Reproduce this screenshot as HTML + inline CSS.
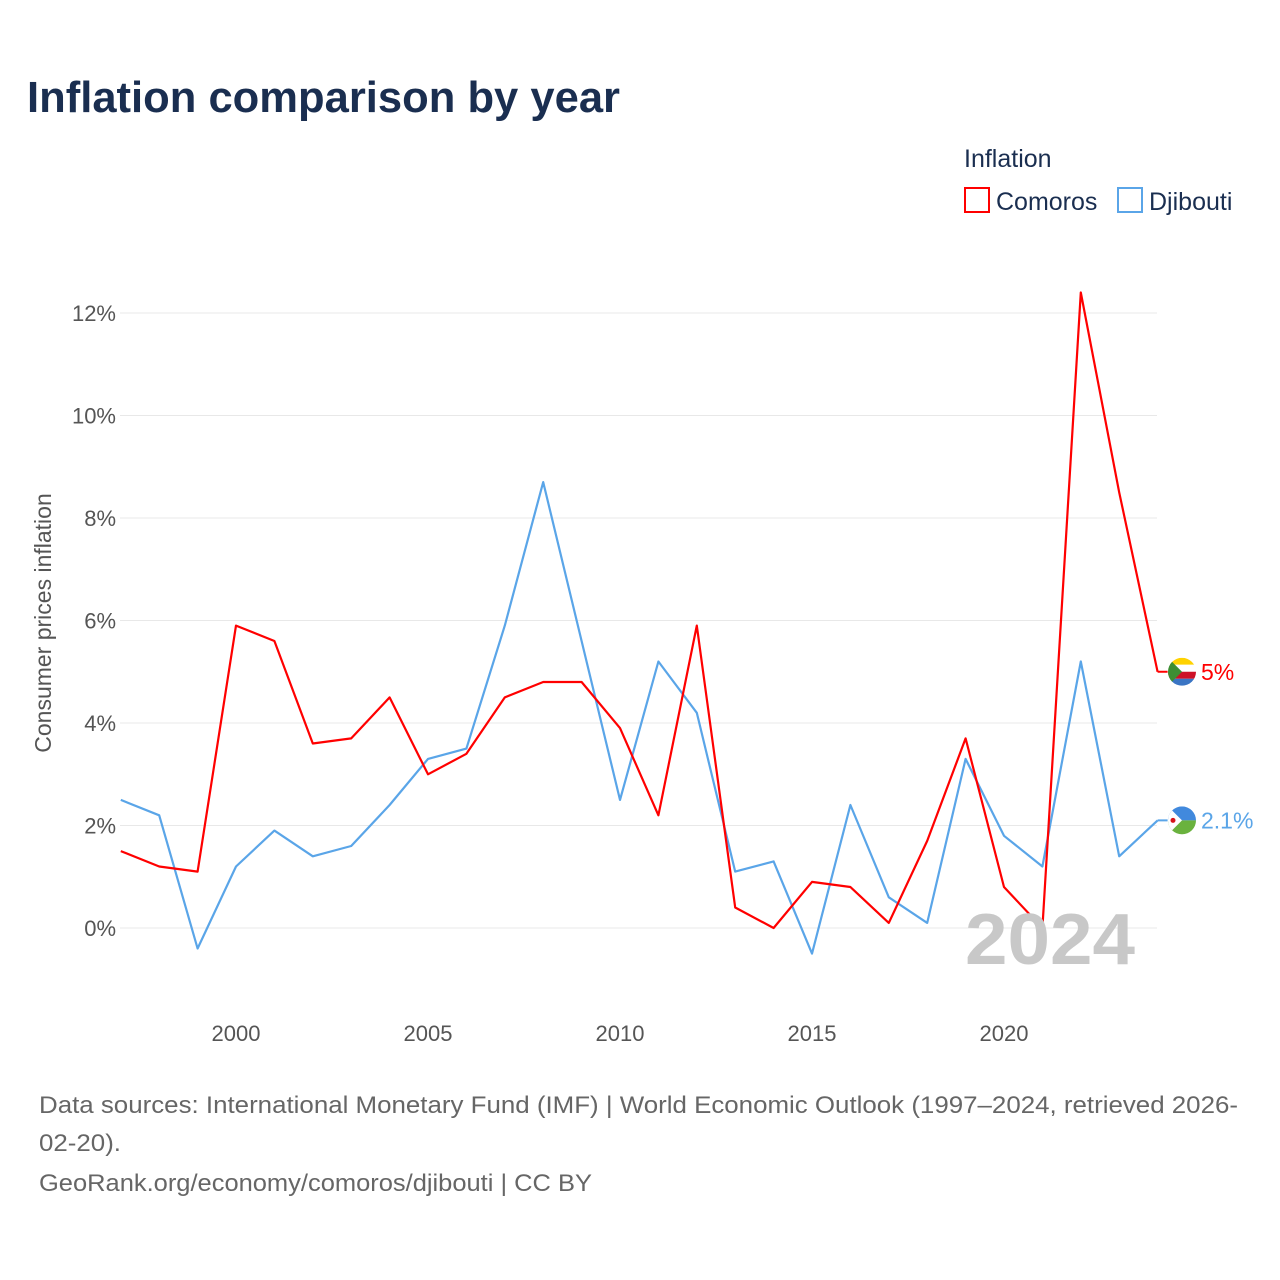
<!DOCTYPE html>
<html><head><meta charset="utf-8">
<style>
body{margin:0;background:#fff;font-family:"Liberation Sans","DejaVu Sans",sans-serif;}
#wrap{position:relative;width:1280px;height:1280px;overflow:hidden;}
</style></head>
<body><div id="wrap">
<svg id="chart" width="1280" height="1280" xmlns="http://www.w3.org/2000/svg">
<text x="27" y="112" font-size="44" font-weight="bold" fill="#1a2e50" textLength="593" lengthAdjust="spacingAndGlyphs">Inflation comparison by year</text>
<text x="964" y="167" font-size="25" fill="#1a2e50">Inflation</text>
<g>
<rect x="965" y="188" width="24" height="24" fill="none" stroke="#ff0000" stroke-width="2"/>
<text x="996" y="210" font-size="25" fill="#1a2e50">Comoros</text></g>
<g>
<rect x="1118" y="188" width="24" height="24" fill="none" stroke="#5aa5e8" stroke-width="2"/>
<text x="1149" y="210" font-size="25" fill="#1a2e50">Djibouti</text></g>
<g id="grid"></g><g id="series"></g>
<text x="965" y="964" font-size="72" font-weight="bold" fill="#c8c8c8" textLength="170" lengthAdjust="spacingAndGlyphs">2024</text>
<text transform="translate(51,623) rotate(-90)" font-size="23" fill="#555" text-anchor="middle">Consumer prices inflation</text>
<text x="39" y="1113" font-size="24" fill="#666" textLength="1199" lengthAdjust="spacingAndGlyphs">Data sources: International Monetary Fund (IMF) | World Economic Outlook (1997–2024, retrieved 2026-</text>
<text x="39" y="1151" font-size="24" fill="#666" textLength="82" lengthAdjust="spacingAndGlyphs">02-20).</text>
<text x="39" y="1191" font-size="24" fill="#666" textLength="553" lengthAdjust="spacingAndGlyphs">GeoRank.org/economy/comoros/djibouti | CC BY</text>
</svg></div>
<script>
const years=[1997,1998,1999,2000,2001,2002,2003,2004,2005,2006,2007,2008,2009,2010,2011,2012,2013,2014,2015,2016,2017,2018,2019,2020,2021,2022,2023,2024];
const comoros=[1.5,1.2,1.1,5.9,5.6,3.6,3.7,4.5,3.0,3.4,4.5,4.8,4.8,3.9,2.2,5.9,0.4,0,0.9,0.8,0.1,1.7,3.7,0.8,0,12.4,8.5,5.0];
const djibouti=[2.5,2.2,-0.4,1.2,1.9,1.4,1.6,2.4,3.3,3.5,5.9,8.7,5.6,2.5,5.2,4.2,1.1,1.3,-0.5,2.4,0.6,0.1,3.3,1.8,1.2,5.2,1.4,2.1];
const yTicks=[0,2,4,6,8,10,12];
const xTicks=[2000,2005,2010,2015,2020];
const NS="http://www.w3.org/2000/svg";
const x=v=>120.8+(v-1997)*38.4;
const y=v=>928-v*51.25;
const grid=document.getElementById('grid'),ser=document.getElementById('series');
function mk(tag,a,p){const e=document.createElementNS(NS,tag);for(const k in a)e.setAttribute(k,a[k]);p.appendChild(e);return e;}
yTicks.forEach(t=>{
 const l=mk('line',{x1:120,x2:1157,y1:y(t),y2:y(t),stroke:'#e8e8e8','stroke-width':1},grid);
 
 
 const tx=mk('text',{x:116,y:y(t)+8,'font-size':22,fill:'#555','text-anchor':'end'},grid);
 tx.textContent=t+'%';
 
 
});
xTicks.forEach(t=>{
 const tx=mk('text',{x:x(t),y:1041,'font-size':22,fill:'#555','text-anchor':'middle'},grid);
 tx.textContent=t;
 
 
});
function line(vals,color,name){
 const d=vals.map((v,i)=>(i?'L':'M')+x(years[i]).toFixed(1)+','+y(v).toFixed(1)).join('');
 const p=mk('path',{d:d,fill:'none',stroke:color,'stroke-width':2.2,'stroke-linejoin':'round'},ser);
 
 
}
line(djibouti,'#5aa5e8','djibouti-line');
line(comoros,'#ff0000','comoros-line');
function endLabel(vals,color,name,flag){
 const v=vals[vals.length-1],yy=y(v),x0=x(years[years.length-1]);
 mk('line',{x1:x0,x2:x0+10,y1:yy,y2:yy,stroke:color,'stroke-width':2},ser);
 const cx=1182;
 const cp=mk('clipPath',{id:'c-'+flag},ser);mk('circle',{cx:cx,cy:yy,r:14},cp);
 const g=mk('g',{'clip-path':'url(#c-'+flag+')'},ser);
 
 
 if(flag==='km'){
  mk('rect',{x:cx-14,y:yy-14,width:28,height:7,fill:'#ffd200'},g);
  mk('rect',{x:cx-14,y:yy-7,width:28,height:7,fill:'#fff'},g);
  mk('rect',{x:cx-14,y:yy,width:28,height:7,fill:'#ce1126'},g);
  mk('rect',{x:cx-14,y:yy+7,width:28,height:7,fill:'#3a75c4'},g);
  mk('path',{d:`M${cx-14},${yy-14}L${cx},${yy}L${cx-14},${yy+14}Z`,fill:'#3d8e33'},g);
 }else{
  mk('rect',{x:cx-14,y:yy-14,width:28,height:14,fill:'#4189dd'},g);
  mk('rect',{x:cx-14,y:yy,width:28,height:14,fill:'#6ab23e'},g);
  mk('path',{d:`M${cx-14},${yy-14}L${cx},${yy}L${cx-14},${yy+14}Z`,fill:'#fff'},g);
  mk('circle',{cx:cx-9,cy:yy,r:2.5,fill:'#d7141a'},g);
 }
 const t=mk('text',{x:1201,y:yy+8,'font-size':23,fill:color},ser);
 t.textContent=v+'%';
 
 
}
endLabel(comoros,'#ff0000','comoros','km');
endLabel(djibouti,'#5aa5e8','djibouti','dj');
</script>
</body></html>
